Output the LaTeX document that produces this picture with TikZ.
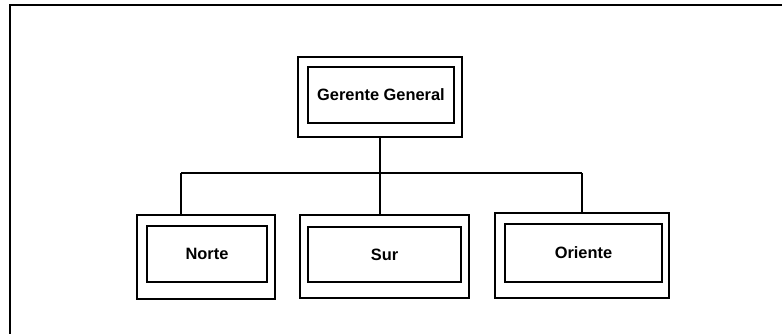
\documentclass[tikz,border=0pt]{standalone}
\usepackage{fontspec}
\setmainfont{Liberation Sans}
\usepackage{tikz}
\usetikzlibrary{positioning}

\begin{document}
\begin{tikzpicture}[
  x=0.75pt, y=-0.75pt,
  font=\bfseries\fontsize{12.3}{14}\selectfont,
  outerbox/.style={draw=black, line width=0.9pt, inner sep=0pt},
  innerbox/.style={draw=black, line width=0.9pt, align=center, inner sep=2pt},
  link/.style={line width=0.9pt, draw=black}
]
\useasboundingbox (0,0) rectangle (782,334);

% sheet border
\draw[link] (782,5) -- (10,5) -- (10,334);

% top position
\node[outerbox, minimum width=123pt, minimum height=60pt] (gg) at (380,97) {};
\node[innerbox, minimum width=109.5pt, minimum height=42pt] (ggin) at (381,95) {Gerente General};

% regions
\node[outerbox, minimum width=103.5pt, minimum height=63pt] (norte) at (206,257) {};
\node[innerbox, minimum width=90pt, minimum height=42pt] (nortein) at (207,254) {Norte};

\node[outerbox, minimum width=126.75pt, minimum height=62.25pt] (sur) at (384.5,256.5) {};
\node[innerbox, minimum width=114.75pt, minimum height=41.25pt] (surin) at (384.5,254.5) {Sur};

\node[outerbox, minimum width=130.5pt, minimum height=63.75pt] (oriente) at (582,255.5) {};
\node[innerbox, minimum width=117.75pt, minimum height=43.5pt] (orientein) at (583.5,253) {Oriente};

% connectors
\coordinate (busL) at (181,173);
\coordinate (busR) at (582,173);
\draw[link] (busL) -- (busR);
\draw[link] (gg.south) -- (gg.south |- sur.north);
\draw[link] (busL) -- (busL |- norte.north);
\draw[link] (busR) -- (oriente.north);
\end{tikzpicture}
\end{document}
